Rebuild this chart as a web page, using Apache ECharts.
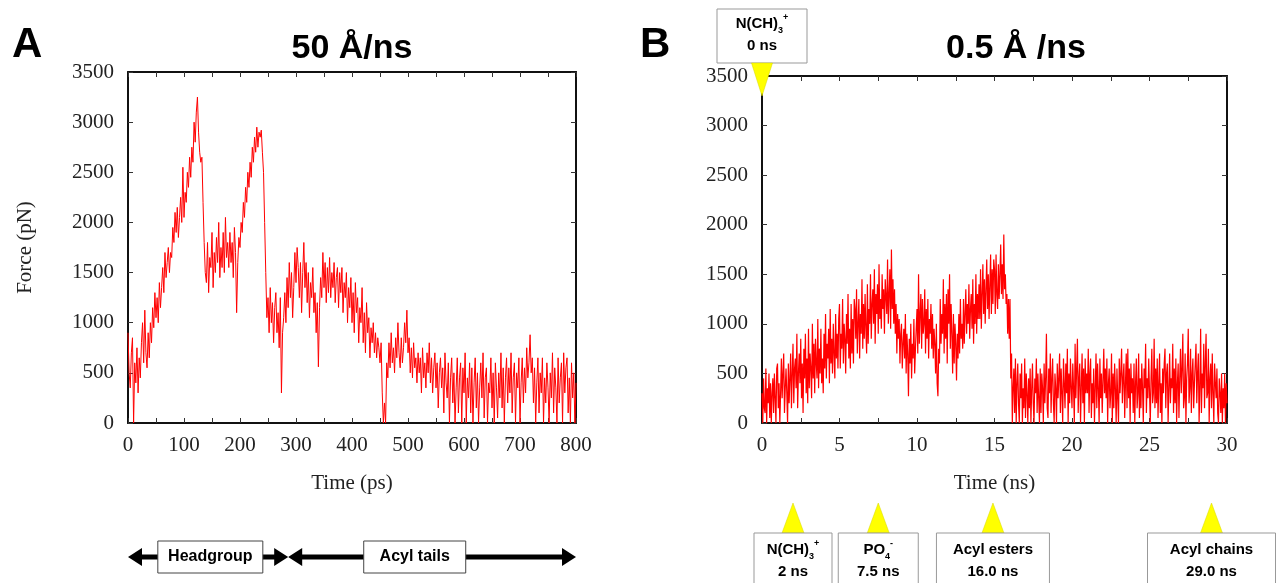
<!DOCTYPE html>
<html><head><meta charset="utf-8">
<script src="https://cdn.jsdelivr.net/npm/echarts@6/dist/echarts.min.js"></script>
<style>html,body{margin:0;padding:0;background:#fff}#c{width:1278px;height:583px}</style>
</head><body><div id="c"></div>
<script>
// ---------------- DATA ----------------
// Panel A: 50 Å/ns, force (pN) read every 2 ps from 0 to 800 ps (one row = 20 ps)
const stepA = 2;
const forceA = [
 900,500,350,700,850,0,600,400,750,300,
 650,450,800,1000,600,1125,700,550,900,650,
 1000,800,1150,950,1300,1050,1250,1000,1400,1150,
 1350,1550,1300,1700,1450,1600,1750,1500,1700,1650,
 1950,1800,2100,1900,2150,1850,2050,2250,2000,2550,
 2050,2300,2200,2500,2350,2650,2450,2750,2600,3000,
 2800,3100,3250,2900,2700,2600,2650,2200,1800,1500,
 1400,1800,1300,1650,1550,1900,1350,1700,1500,1850,
 1600,2000,1450,1750,1550,1900,1500,2050,1650,1800,
 1550,1900,1600,1800,1450,1950,1700,1100,1600,1850,
 1750,2000,1900,2200,2050,2350,2200,2500,2350,2600,
 2450,2750,2600,2850,2700,2950,2750,2900,2850,2920,
 2700,2500,2000,1500,1050,1250,900,1350,1000,1200,
 800,1150,1300,900,1100,750,1250,300,900,1050,
 1300,1000,1450,1150,1600,1250,1500,1050,1350,1700,
 1400,1750,1550,1250,1600,1100,1500,1800,1350,1600,
 1200,1500,1050,1400,1250,1550,1100,1300,900,1200,
 560,1150,1450,1250,1700,1350,1600,1200,1550,1300,
 1650,1250,1500,1350,1600,1200,1450,1550,1150,1500,
 1300,1550,1100,1400,1250,1500,1000,1350,1150,1450,
 1000,1300,900,1400,1100,1250,800,1150,1000,1350,
 800,1100,700,1200,900,1050,650,950,800,1000,
 700,900,650,850,750,600,800,300,0,200,
 0,600,450,800,550,900,600,750,500,850,
 650,1000,700,550,850,600,750,1000,800,1125,
 700,850,500,750,450,800,550,650,400,700,
 500,650,300,750,450,600,350,700,500,800,
 400,650,300,550,700,350,600,150,500,650,
 350,550,100,700,400,250,600,0,450,650,
 200,500,0,350,650,100,450,600,0,550,
 300,700,0,450,250,600,100,550,0,400,
 650,150,500,0,350,600,250,700,50,450,
 550,0,400,300,650,150,500,0,600,350,
 50,500,250,700,150,550,0,450,650,200,
 550,300,700,100,450,600,0,500,350,650,
 0,400,650,200,550,300,750,450,600,880,
 500,650,200,550,0,400,650,100,500,300,
 650,0,450,200,600,350,0,500,250,700,
 100,550,350,0,650,200,450,600,0,700,
 300,550,650,100,450,0,600,250,500,0,
 400
];
// Panel B: 0.5 Å/ns, force (pN) read every 0.05 ns from 0 to 30 ns (one row = 1 ns)
const stepB = 0.05;
const forceB = [
 300,0,450,150,100,550,0,350,200,500,50,400,0,300,450,100,500,250,0,550,
 600,150,400,0,300,650,250,500,700,100,350,550,300,0,600,200,450,700,150,500,
 800,200,550,650,350,900,150,500,700,400,850,250,600,100,750,450,900,300,650,200,
 950,350,700,550,250,1000,450,800,300,850,600,450,1050,350,750,500,950,400,650,300,
 900,550,1100,450,800,650,950,400,1150,600,850,500,1000,700,450,1100,650,900,550,1050,
 1200,550,900,750,1250,600,1000,850,500,1100,800,1300,650,950,550,1200,700,1050,600,1250,
 1150,850,1350,700,1000,1250,650,1100,900,1450,750,1200,850,1300,950,700,1400,800,1150,1000,
 1500,850,1200,1350,1000,1550,800,1300,1100,1400,900,1600,1050,1250,950,1500,1150,1350,900,1450,
 1450,1100,1650,1000,1300,1550,950,1750,1150,1450,1000,1350,900,1200,700,1100,850,1050,600,900,
 1000,550,800,950,650,1100,500,900,700,270,850,600,1000,450,800,650,1050,500,750,950,
 1150,700,1500,800,1100,1300,750,1250,900,1000,1350,700,1150,850,1250,650,1050,900,1200,750,
 1100,650,950,800,500,1000,400,270,750,600,1250,800,1100,900,1450,700,1200,850,1300,600,
 1350,1000,1500,750,1200,900,500,1100,600,1000,800,430,900,650,1100,700,1250,850,1000,750,
 1250,800,1100,1350,900,1200,1000,1400,850,1150,1300,950,1450,800,1200,1000,1500,900,1300,1050,
 1400,1050,1550,950,1300,1600,1100,1450,1000,1350,1650,1150,1500,1050,1400,1700,1100,1550,1200,1650,
 1550,1100,1700,1300,1150,1600,1250,1500,1800,1300,1600,1250,1900,1350,1500,1200,1300,900,1250,850,
 1250,450,700,0,350,550,100,650,0,400,600,200,0,500,250,600,0,350,150,650,
 50,500,300,0,450,150,550,0,350,600,200,0,450,300,650,100,500,250,0,550,
 100,500,350,0,600,200,450,900,150,50,550,300,700,100,450,650,200,0,500,350,
 0,600,250,450,700,100,550,300,0,650,400,150,600,300,750,0,500,200,650,350,
 150,600,350,0,800,250,550,850,100,450,600,0,350,700,200,550,0,650,300,500,
 300,750,100,500,650,50,400,200,550,0,350,700,150,600,350,0,650,250,500,100,
 100,750,300,550,250,650,0,400,550,150,300,700,0,500,150,600,350,0,550,250,
 0,650,300,500,750,200,450,600,50,400,700,150,750,250,550,0,600,300,450,100,
 600,0,400,650,150,300,700,50,450,150,600,350,0,550,350,800,100,450,250,650,
 650,0,450,750,200,300,850,150,550,200,650,50,400,700,100,400,0,550,300,600,
 750,150,500,600,0,350,700,200,450,350,800,100,550,200,650,0,400,600,50,450,
 750,300,550,900,150,250,700,0,450,600,950,200,350,750,100,500,650,150,400,600,
 800,200,500,700,0,350,950,100,500,350,800,150,600,900,250,300,750,0,450,600,
 150,700,300,0,600,400,250,550,100,0,450,300,100,500,0,350,150,500,0,400,
 200
];
// Axis ranges / ticks
const xRangeA = [0, 800], xIntervalA = 100;
const xRangeB = [0, 30], xIntervalB = 5;
const yRange = [0, 3500], yInterval = 500;
// Annotations (in data units)
const regionsA = [
  {name: 'Headgroup', from: 0, to: 286, labelAt: 147},
  {name: 'Acyl tails', from: 286, to: 800, labelAt: 512}
];
const eventsB = [
  {label: '{b|N(CH)}{s|3}{p|+}', time: '2 ns', at: 2},
  {label: '{b|PO}{s|4}{p|-}', time: '7.5 ns', at: 7.5},
  {label: '{b|Acyl esters}', time: '16.0 ns', at: 14.9},
  {label: '{b|Acyl chains}', time: '29.0 ns', at: 29}
];
const topEventB = {label: '{b|N(CH)}{s|3}{p|+}', time: '0 ns', at: 0};
const titles = ['50 Å/ns', '0.5 Å /ns'];
const panelLetters = ['A', 'B'];

// ---------------- LAYOUT / STYLE ----------------
const boxWA = [105, 102];
const boxWB = [78, 80, 113, 128];
const SERIF = '"Liberation Serif", "Times New Roman", serif';
const SANS = '"Liberation Sans", Arial, sans-serif';

const seriesA = forceA.map((v, i) => [i * stepA, v]);
const seriesB = forceB.map((v, i) => [+(i * stepB).toFixed(2), v]);

const chart = echarts.init(document.getElementById('c'), null, {renderer: 'canvas'});

function xAx(grid, range, interval, pos, name) {
  const labeled = pos === 'bottom';
  return {
    type: 'value', gridIndex: grid, position: pos, min: range[0], max: range[1], interval: interval,
    axisLine: {show: true, onZero: false, lineStyle: {color: '#111', width: 2}},
    axisTick: {show: true, inside: true, length: 5, lineStyle: {color: '#333', width: 1}},
    minorTick: {show: true, splitNumber: 2, length: 5, lineStyle: {color: '#333', width: 1}},
    splitLine: {show: false},
    axisLabel: {show: labeled, fontFamily: SERIF, fontSize: 21, color: '#222', margin: 12,
                formatter: v => String(v)},
    name: labeled ? name : '', nameLocation: 'middle', nameGap: 50,
    nameTextStyle: {fontFamily: SERIF, fontSize: 21, color: '#222'}
  };
}
function yAx(grid, pos, name) {
  const labeled = pos === 'left';
  return {
    type: 'value', gridIndex: grid, position: pos, min: yRange[0], max: yRange[1], interval: yInterval,
    axisLine: {show: true, onZero: false, lineStyle: {color: '#111', width: 2}},
    axisTick: {show: true, inside: true, length: 5, lineStyle: {color: '#333', width: 1}},
    splitLine: {show: false},
    axisLabel: {show: labeled, fontFamily: SERIF, fontSize: 21, color: '#222', margin: 14,
                formatter: v => String(v)},
    name: labeled ? (name || '') : '', nameLocation: 'middle', nameGap: 92,
    nameTextStyle: {fontFamily: SERIF, fontSize: 21, color: '#222'}
  };
}

const option = {
  animation: false,
  backgroundColor: '#fff',
  grid: [
    {left: 128, top: 72, width: 448, height: 351, containLabel: false, outerBoundsMode: 'none'},
    {left: 762, top: 76, width: 465, height: 347, containLabel: false, outerBoundsMode: 'none'}
  ],
  xAxis: [
    xAx(0, xRangeA, xIntervalA, 'bottom', 'Time (ps)'),
    xAx(0, xRangeA, xIntervalA, 'top'),
    xAx(1, xRangeB, xIntervalB, 'bottom', 'Time (ns)'),
    xAx(1, xRangeB, xIntervalB, 'top')
  ],
  yAxis: [
    yAx(0, 'left', 'Force (pN)'),
    yAx(0, 'right'),
    yAx(1, 'left', ''),
    yAx(1, 'right')
  ],
  series: [
    {type: 'line', xAxisIndex: 0, yAxisIndex: 0, data: seriesA, symbol: 'none', showSymbol: false,
     lineStyle: {color: '#ff0000', width: 1}, itemStyle: {color: '#ff0000'}, clip: true, z: 3},
    {type: 'line', xAxisIndex: 2, yAxisIndex: 2, data: seriesB, symbol: 'none', showSymbol: false,
     lineStyle: {color: '#ff0000', width: 1.2}, itemStyle: {color: '#ff0000'}, clip: true, z: 3}
  ]
};
chart.setOption(option);

function buildGraphics() {
  const g = [];
  const px = (ax, t) => chart.convertToPixel({xAxisIndex: ax}, t);
  // Letters and titles
  g.push({type: 'text', x: 12, y: 45, z: 20, style: {text: panelLetters[0], font: 'bold 42px ' + SANS, fill: '#000', textAlign: 'left', textVerticalAlign: 'middle'}});
  g.push({type: 'text', x: 640, y: 45, z: 20, style: {text: panelLetters[1], font: 'bold 42px ' + SANS, fill: '#000', textAlign: 'left', textVerticalAlign: 'middle'}});
  g.push({type: 'text', x: (px(0, xRangeA[0]) + px(0, xRangeA[1])) / 2, y: 49, z: 20, style: {text: titles[0], font: 'bold 34px ' + SANS, fill: '#000', textAlign: 'center', textVerticalAlign: 'middle'}});
  g.push({type: 'text', x: 1016, y: 49, z: 20, style: {text: titles[1], font: 'bold 34px ' + SANS, fill: '#000', textAlign: 'center', textVerticalAlign: 'middle'}});

  // Panel A region arrows
  const ay = 557, headL = 14, headH = 9, lw = 5;
  regionsA.forEach((r, i) => {
    const x0 = px(0, r.from), x1 = px(0, r.to);
    g.push({type: 'rect', z: 10, shape: {x: x0 + headL - 1, y: ay - lw / 2, width: x1 - x0 - 2 * headL + 2, height: lw}, style: {fill: '#000'}});
    g.push({type: 'polygon', z: 10, shape: {points: [[x0, ay], [x0 + headL, ay - headH], [x0 + headL, ay + headH]]}, style: {fill: '#000'}});
    g.push({type: 'polygon', z: 10, shape: {points: [[x1, ay], [x1 - headL, ay - headH], [x1 - headL, ay + headH]]}, style: {fill: '#000'}});
    const cx = px(0, r.labelAt), w = boxWA[i];
    g.push({type: 'rect', z: 11, shape: {x: cx - w / 2, y: ay - 16, width: w, height: 32}, style: {fill: '#fff', stroke: '#444', lineWidth: 1}});
    g.push({type: 'text', z: 12, x: cx, y: ay, style: {text: r.name, font: 'bold 16px ' + SANS, fill: '#000', textAlign: 'center', textVerticalAlign: 'middle'}});
  });

  const rich = {
    b: {fontSize: 15, fontWeight: 'bold', fontFamily: SANS, fill: '#000', lineHeight: 22},
    s: {fontSize: 9, fontWeight: 'bold', fontFamily: SANS, fill: '#000', verticalAlign: 'bottom', lineHeight: 22},
    p: {fontSize: 9, fontWeight: 'bold', fontFamily: SANS, fill: '#000', verticalAlign: 'top', lineHeight: 22}
  };
  // Panel B bottom event markers
  eventsB.forEach((e, i) => {
    const cx = px(2, e.at), w = boxWB[i];
    g.push({type: 'polygon', z: 10, shape: {points: [[cx, 503], [cx - 11, 533], [cx + 11, 533]]}, style: {fill: '#ffff00', stroke: '#d6d600', lineWidth: 0.5}});
    g.push({type: 'rect', z: 11, shape: {x: cx - w / 2, y: 533, width: w, height: 62}, style: {fill: '#fff', stroke: '#999', lineWidth: 1}});
    g.push({type: 'text', z: 12, x: cx, y: 561, style: {text: e.label + '\n{b|' + e.time + '}', rich: rich, textAlign: 'center', textVerticalAlign: 'middle'}});
  });
  // Panel B top marker
  const tx = px(2, topEventB.at);
  g.push({type: 'rect', z: 11, shape: {x: tx - 45, y: 9, width: 90, height: 54}, style: {fill: '#fff', stroke: '#999', lineWidth: 1}});
  g.push({type: 'text', z: 12, x: tx, y: 35, style: {text: topEventB.label + '\n{b|' + topEventB.time + '}', rich: rich, textAlign: 'center', textVerticalAlign: 'middle'}});
  g.push({type: 'polygon', z: 13, shape: {points: [[tx - 10.5, 63], [tx + 10.5, 63], [tx, 96]]}, style: {fill: '#ffff00', stroke: '#d6d600', lineWidth: 0.5}});
  return g;
}
chart.setOption({graphic: buildGraphics()});
</script>
</body></html>
